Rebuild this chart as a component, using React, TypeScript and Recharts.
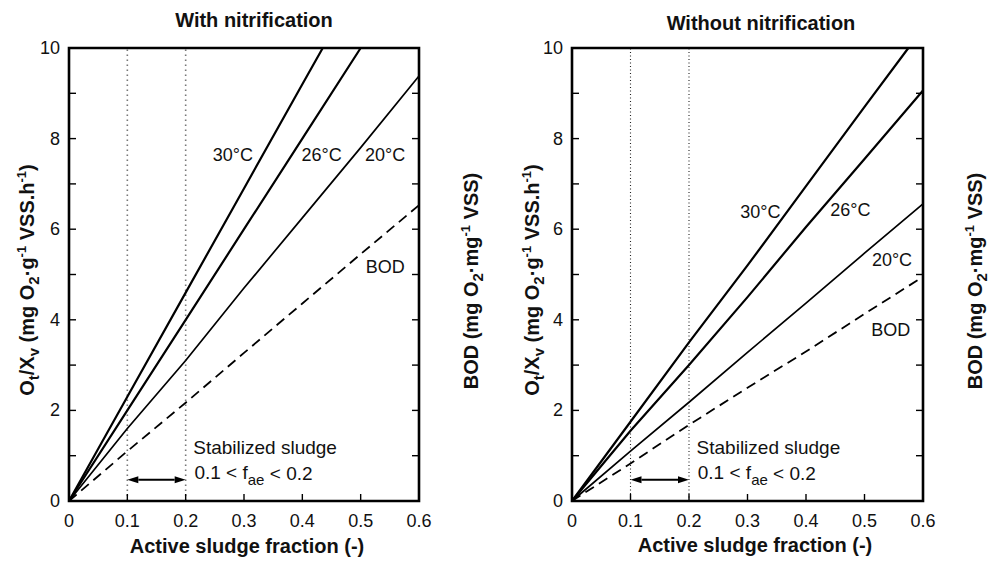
import React from 'react';
import { LineChart, Line, XAxis, YAxis, ReferenceLine, ReferenceDot } from 'recharts';

const FONT = '"Liberation Sans", Arial, Helvetica, sans-serif';

// axis ticks
const fractionTicks = [0, 0.1, 0.2, 0.3, 0.4, 0.5, 0.6];
const oxygenTicks = [0, 1, 2, 3, 4, 5, 6, 7, 8, 9, 10];
const bodTicks = [0.1, 0.2, 0.3, 0.4, 0.5, 0.6, 0.7, 0.8, 0.9, 1.0];

// With nitrification
const withX30 = [0, 0.1, 0.2, 0.3, 0.4, 0.435];
const withY30 = [0, 2.3, 4.6, 6.9, 9.2, 10];
const withX26 = [0, 0.1, 0.2, 0.3, 0.4, 0.5];
const withY26 = [0, 2.0, 4.0, 6.0, 8.0, 10];
const withY20 = [0, 1.6, 3.1, 4.7, 6.25, 7.8, 9.38];
const withYBod = [0, 1.1, 2.17, 3.27, 4.36, 5.45, 6.53];

// Without nitrification
const withoutX30 = [0, 0.1, 0.2, 0.3, 0.4, 0.5, 0.575];
const withoutY30 = [0, 1.75, 3.5, 5.2, 6.95, 8.7, 10];
const withoutY26 = [0, 1.55, 3.0, 4.5, 6.05, 7.55, 9.06];
const withoutY20 = [0, 1.1, 2.18, 3.28, 4.37, 5.47, 6.56];
const withoutYBod = [0, 0.83, 1.68, 2.5, 3.3, 4.13, 4.95];

const seriesNames = ['30°C', '26°C', '20°C', 'BOD'];

const zip = (xs: number[], ys: number[]) => xs.map((x, i) => ({ x, y: ys[i] }));

const X0 = fractionTicks[0];
const X1 = fractionTicks[fractionTicks.length - 1];
const Y0 = oxygenTicks[0];
const Y1 = oxygenTicks[oxygenTicks.length - 1];

// frame of the plot, drawn as a closed path on the domain corners
const frame = [
  { x: X0, y: Y0 }, { x: X1, y: Y0 }, { x: X1, y: Y1 }, { x: X0, y: Y1 }, { x: X0, y: Y0 },
];

// inward tick marks, 7px long (plot ~350px wide for 0.6, ~453px high for 10)
const TX = (X1 - X0) * 7 / 350;
const TY = (Y1 - Y0) * 7 / 453;
const tickSegments = [
  ...oxygenTicks.slice(1, -1).map((v) => [{ x: X0, y: v }, { x: X0 + TX, y: v }]),
  ...bodTicks.slice(0, -1).map((v) => [{ x: X1 - TX, y: v * Y1 }, { x: X1, y: v * Y1 }]),
  ...fractionTicks.slice(1, -1).map((v) => [{ x: v, y: Y0 }, { x: v, y: Y0 + TY }]),
];

const panels = [
  {
    title: 'With nitrification',
    left: 0,
    width: 496,
    margin: { top: 48, right: 37, bottom: 22, left: 29 },
    titleAt: [254, 20],
    yLeftAt: [27, 280],
    yRightAt: [471, 281],
    xTitleAt: [247, 546],
    guide: { stroke: '#777', width: 1.6, dash: '1.5 3.5' },
    series: [
      zip(withX30, withY30),
      zip(withX26, withY26),
      zip(fractionTicks, withY20),
      zip(fractionTicks, withYBod),
    ],
    notes: [
      { x: 0.281, y: 7.64, text: seriesNames[0] },
      { x: 0.433, y: 7.64, text: seriesNames[1] },
      { x: 0.542, y: 7.64, text: seriesNames[2] },
      { x: 0.542, y: 5.17, text: seriesNames[3] },
    ],
  },
  {
    title: 'Without nitrification',
    left: 500,
    width: 493,
    margin: { top: 48, right: 30, bottom: 22, left: 32 },
    titleAt: [261, 23],
    yLeftAt: [32, 280],
    yRightAt: [475, 281],
    xTitleAt: [255, 545],
    guide: { stroke: '#222', width: 1.1, dash: '1 2.5' },
    series: [
      zip(withoutX30, withoutY30),
      zip(fractionTicks, withoutY26),
      zip(fractionTicks, withoutY20),
      zip(fractionTicks, withoutYBod),
    ],
    notes: [
      { x: 0.322, y: 6.39, text: seriesNames[0] },
      { x: 0.476, y: 6.42, text: seriesNames[1] },
      { x: 0.547, y: 5.32, text: seriesNames[2] },
      { x: 0.545, y: 3.77, text: seriesNames[3] },
    ],
  },
];

const lineWidths = [2.2, 2.2, 1.7, 1.8];
const TICK_FS = 18;

const LeftTick = (props: any) => {
  const { x, y, payload } = props;
  const v = Number(payload.value);
  if (v % 2 !== 0) return <g />;
  return (
    <text x={Number(x)} y={Number(y)} textAnchor="end" dominantBaseline="central" fontSize={TICK_FS} fontFamily={FONT} fill="#111">
      {v}
    </text>
  );
};

const RightTick = (props: any) => {
  const { x, y, payload } = props;
  const v = Number(payload.value);
  if (Math.round(v * 10) % 2 !== 0) return <g />;
  return (
    <text x={Number(x)} y={Number(y)} textAnchor="start" dominantBaseline="central" fontSize={TICK_FS} fontFamily={FONT} fill="#111">
      {v.toFixed(1)}
    </text>
  );
};

const BottomTick = (props: any) => {
  const { x, y, payload } = props;
  return (
    <text x={Number(x)} y={Number(y) + 13.5} textAnchor="middle" fontSize={TICK_FS} fontFamily={FONT} fill="#111">
      {payload.value}
    </text>
  );
};

const NoteText = (props: any) => (
  <text x={props.cx} y={props.cy} textAnchor={props.anchor || 'middle'} dominantBaseline="central"
    fontSize={props.size || 18} fontFamily={FONT} fill="#111">
    {props.text}
  </text>
);

const RangeText = (props: any) => (
  <text x={props.cx} y={props.cy} textAnchor="start" dominantBaseline="central" fontSize={19} fontFamily={FONT} fill="#111">
    0.1 {'<'} f<tspan dy={6} fontSize={15}>ae</tspan><tspan dy={-6}> {'<'} 0.2</tspan>
  </text>
);

const ArrowShape = (props: any) => {
  const { x1, y1, x2 } = props;
  const h = 11;
  return (
    <g>
      <line x1={x1 + h} y1={y1} x2={x2 - h} y2={y1} stroke="#000" strokeWidth={2} />
      <polygon points={`${x1},${y1} ${x1 + h},${y1 - 3.5} ${x1 + h},${y1 + 3.5}`} fill="#000" />
      <polygon points={`${x2},${y1} ${x2 - h},${y1 - 3.5} ${x2 - h},${y1 + 3.5}`} fill="#000" />
    </g>
  );
};

const sub = { fontSize: 15, verticalAlign: '-5px', lineHeight: 0 };
const sup = { fontSize: 13, verticalAlign: '8px', lineHeight: 0 };

const boldText = {
  position: 'absolute' as const,
  fontFamily: FONT,
  fontWeight: 'bold' as const,
  fontSize: 20,
  color: '#111',
  lineHeight: '26px',
  height: 26,
  width: 400,
  textAlign: 'center' as const,
  whiteSpace: 'nowrap' as const,
  pointerEvents: 'none' as const,
};

const at = (c: number[], rotate = false) => ({
  ...boldText,
  left: c[0] - 200,
  top: c[1] - 13,
  transform: rotate ? 'rotate(-90deg)' : undefined,
  transformOrigin: '200px 13px',
});

function Panel({ p }: { p: (typeof panels)[number] }) {
  return (
    <div style={{ position: 'absolute', left: p.left, top: 0, width: p.width, height: 563 }}>
      <LineChart width={p.width} height={563} margin={p.margin}>
        <XAxis type="number" dataKey="x" domain={[X0, X1]} ticks={fractionTicks} axisLine={false}
          tickLine={false} tickSize={0} tickMargin={12} interval={0} tick={<BottomTick />} height={40} />
        <YAxis yAxisId="l" type="number" domain={[Y0, Y1]} ticks={oxygenTicks} axisLine={false}
          tickLine={false} tickSize={0} tickMargin={9} interval={0} tick={<LeftTick />} width={40} />
        <YAxis yAxisId="r" orientation="right" type="number" domain={[0, 1]} ticks={bodTicks}
          axisLine={false} tickLine={false} tickSize={0} tickMargin={8} interval={0} tick={<RightTick />} width={40} />

        {[0.1, 0.2].map((g) => (
          <ReferenceLine key={g} yAxisId="l" x={g} stroke={p.guide.stroke}
            strokeWidth={p.guide.width} strokeDasharray={p.guide.dash} />
        ))}

        {p.series.map((d, i) => (
          <Line key={i} yAxisId="l" data={d} dataKey="y" type="linear" stroke="#000"
            strokeWidth={lineWidths[i]} strokeDasharray={i === 3 ? '10 6' : undefined}
            dot={false} activeDot={false} isAnimationActive={false} />
        ))}

        {tickSegments.map((seg, i) => (
          <Line key={`t${i}`} yAxisId="l" data={seg} dataKey="y" type="linear" stroke="#000"
            strokeWidth={1.4} dot={false} activeDot={false} isAnimationActive={false} />
        ))}

        <Line yAxisId="l" data={frame} dataKey="y" type="linear" stroke="#000" strokeWidth={2.6}
          strokeLinejoin="miter" strokeLinecap="square" dot={false} activeDot={false} isAnimationActive={false} />

        <ReferenceLine yAxisId="l" segment={[{ x: 0.1, y: 0.47 }, { x: 0.2, y: 0.47 }]}
          shape={(sp: any) => <ArrowShape {...sp} />} />

        {p.notes.map((n) => (
          <ReferenceDot key={n.text} yAxisId="l" x={n.x} y={n.y} r={0}
            shape={(sp: any) => <NoteText {...sp} text={n.text} />} />
        ))}
        <ReferenceDot yAxisId="l" x={0.213} y={1.17} r={0}
          shape={(sp: any) => <NoteText {...sp} text="Stabilized sludge" anchor="start" size={19} />} />
        <ReferenceDot yAxisId="l" x={0.215} y={0.62} r={0} shape={(sp: any) => <RangeText {...sp} />} />
      </LineChart>

      <div style={at(p.titleAt)}>{p.title}</div>
      <div style={at(p.xTitleAt)}>Active sludge fraction (-)</div>
      <div style={at(p.yLeftAt, true)}>
        O<span style={sub}>t</span>/X<span style={sub}>v</span> (mg O<span style={sub}>2</span>·g
        <span style={sup}>-1</span> VSS.h<span style={sup}>-1</span>)
      </div>
      <div style={at(p.yRightAt, true)}>
        BOD (mg O<span style={sub}>2</span>·mg<span style={sup}>-1</span> VSS)
      </div>
    </div>
  );
}

export default function App() {
  return (
    <div style={{ position: 'fixed', left: 0, top: 0, width: 993, height: 563, background: '#fff', overflow: 'hidden' }}>
      {panels.map((p) => (
        <Panel key={p.title} p={p} />
      ))}
    </div>
  );
}
